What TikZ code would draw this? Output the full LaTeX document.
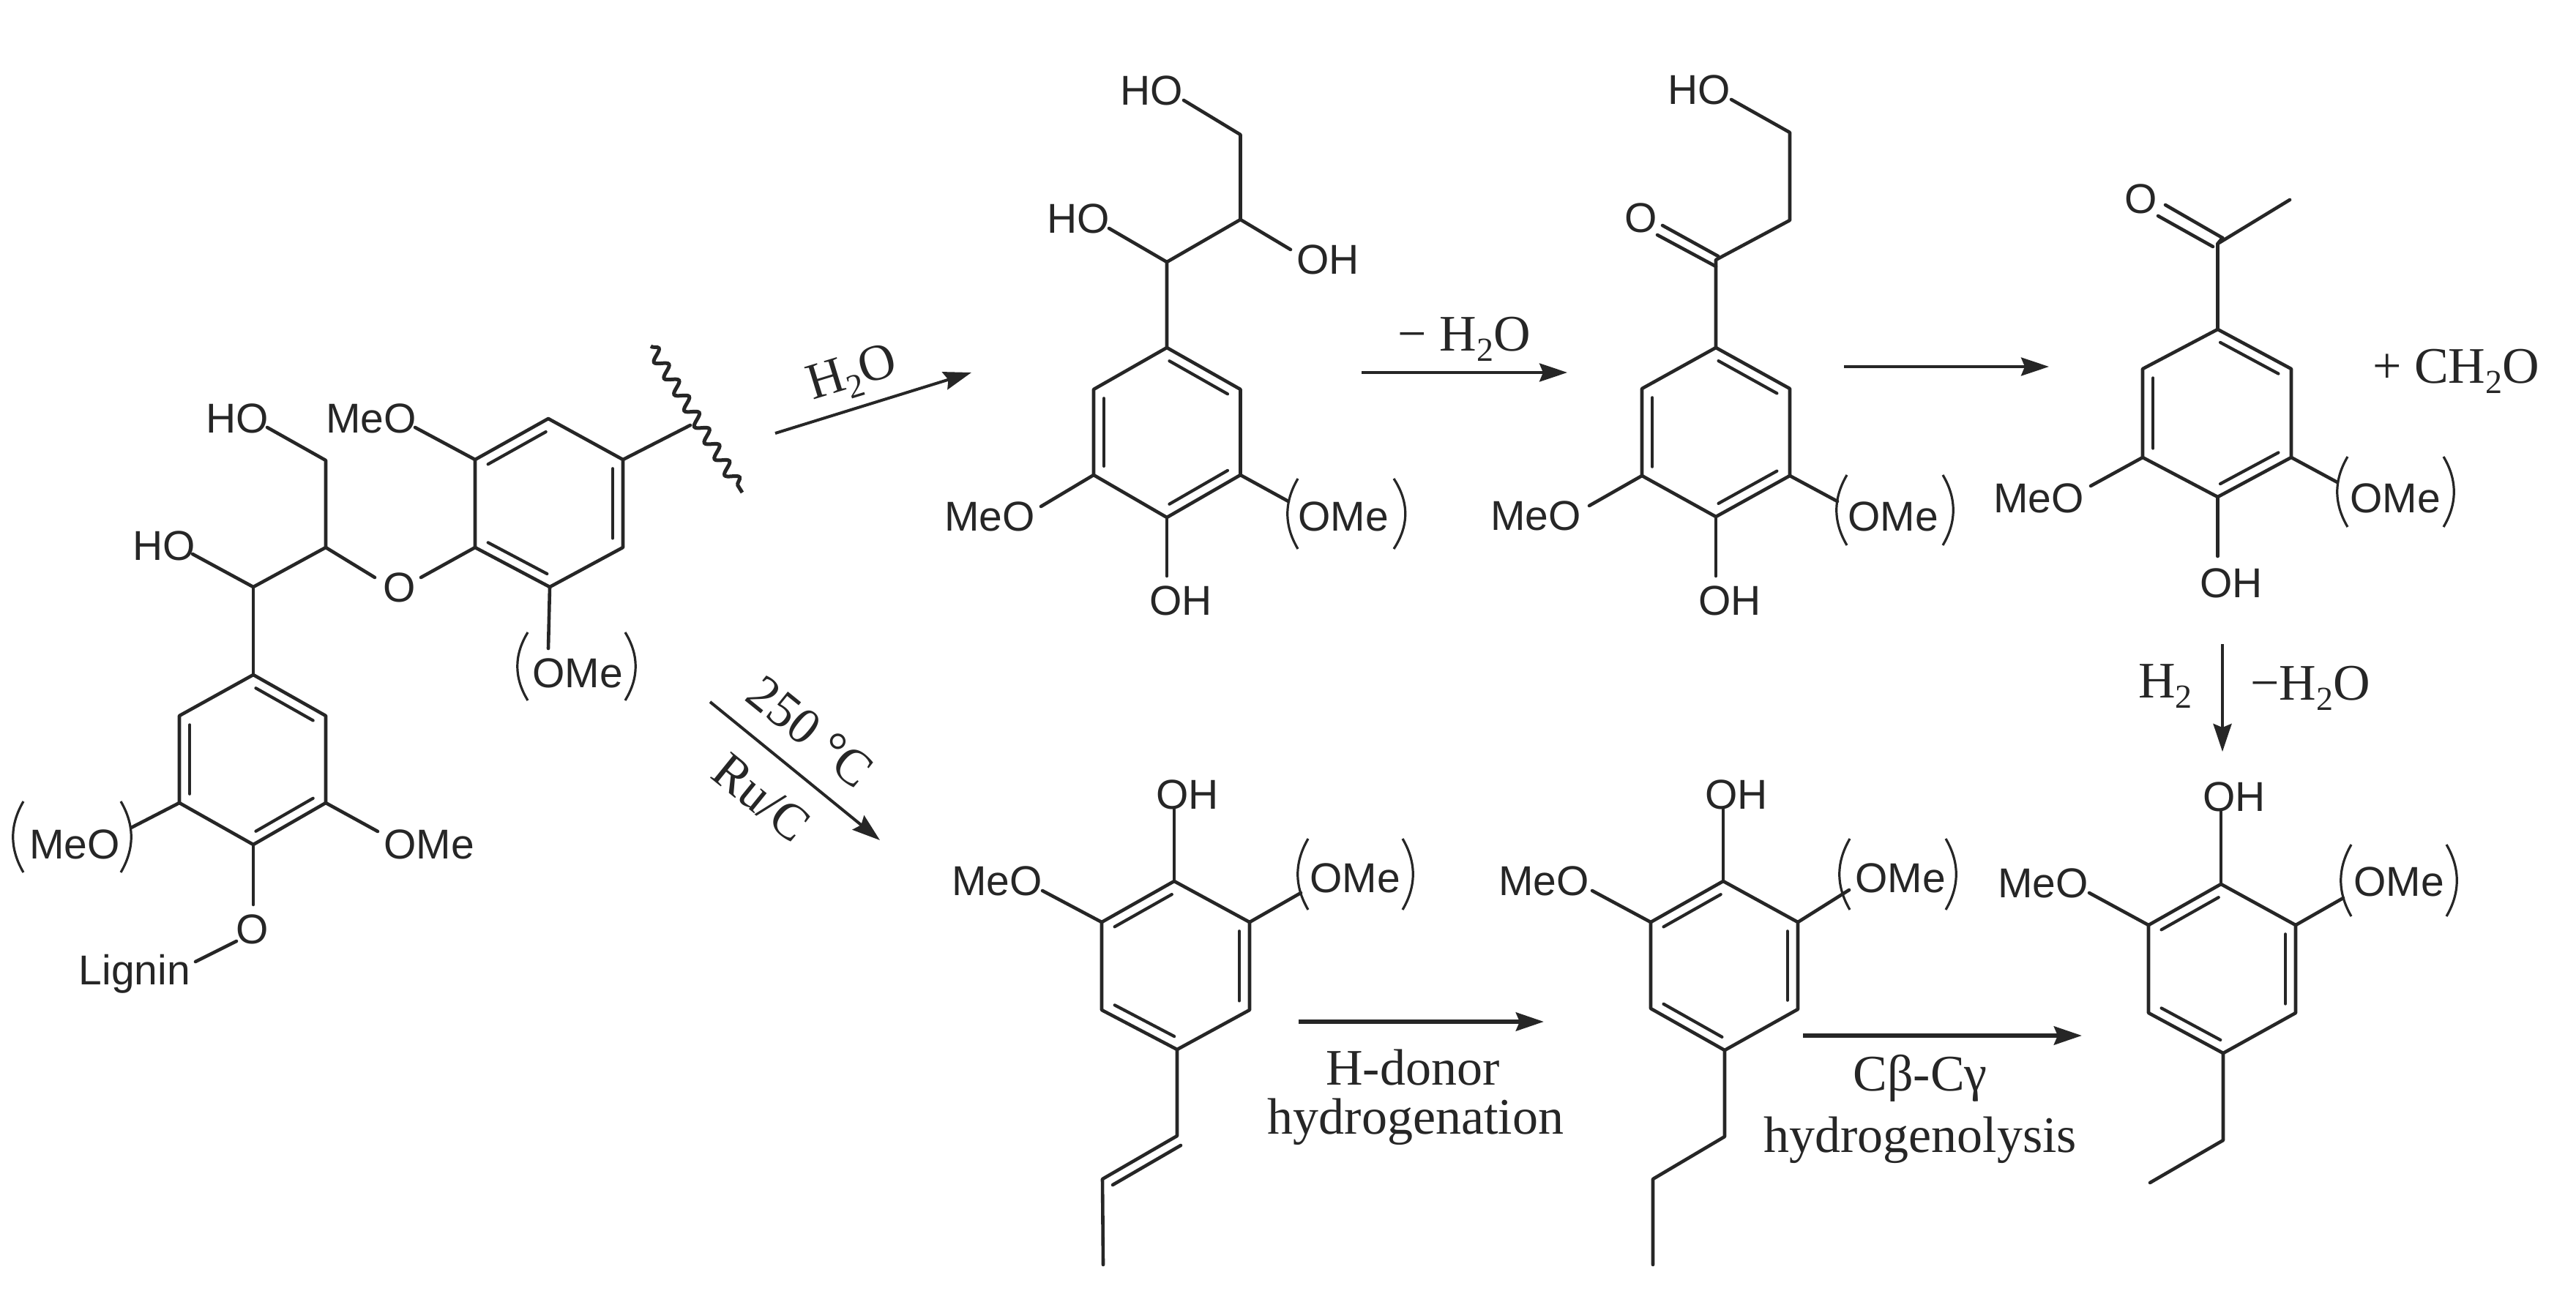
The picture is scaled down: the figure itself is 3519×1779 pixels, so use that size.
\documentclass[tikz,border=0pt]{standalone}
\usepackage{fontspec}
\setmainfont{Liberation Serif}
\setsansfont{Liberation Sans}
\usetikzlibrary{calc,arrows.meta,decorations.pathmorphing}
\definecolor{ink}{HTML}{262626}
\newcommand{\subdig}[1]{\raisebox{-0.2em}{\fontsize{46}{46}\selectfont #1}}
\newcommand{\benzring}[7]{%
  \coordinate (#1t) at (#2);\coordinate (#1rt) at (#3);\coordinate (#1rb) at (#4);
  \coordinate (#1b) at (#5);\coordinate (#1lb) at (#6);\coordinate (#1lt) at (#7);
  \coordinate (#1c) at ($(#1t)!.5!(#1b)$);
  \draw[bond] (#1t)--(#1rt)--(#1rb)--(#1b)--(#1lb)--(#1lt)--cycle;}
\newcommand{\dblin}[3]{\draw[bondin] ($(#1c)!.86!(#1#2)$) -- ($(#1c)!.86!(#1#3)$);}
\newcommand{\dblA}[1]{\dblin{#1}{t}{rt}\dblin{#1}{rb}{b}\dblin{#1}{lb}{lt}}
\newcommand{\dblB}[1]{\dblin{#1}{t}{lt}\dblin{#1}{rt}{rb}\dblin{#1}{b}{lb}}
\newcommand{\brackets}[6]{%
  \draw[brk] (#1,#5) .. controls (#2,{(2*#5+#6)/3}) and (#2,{(#5+2*#6)/3}) .. (#1,#6);
  \draw[brk] (#3,#5) .. controls (#4,{(2*#5+#6)/3}) and (#4,{(#5+2*#6)/3}) .. (#3,#6);}
\begin{document}
\begin{tikzpicture}[x=1pt,y=-1pt,
  bond/.style={draw=ink,line width=4.6pt,line join=round,line cap=round},
  bondin/.style={draw=ink,line width=4.2pt,line cap=round,shorten <=4pt,shorten >=4pt},
  brk/.style={draw=ink,line width=3.2pt},
  lab/.style={inner sep=0pt,text=ink,font=\fontsize{57}{57}\selectfont\sffamily},
  txt/.style={inner sep=0pt,text=ink,font=\fontsize{70}{70}\selectfont\rmfamily},
  rx/.style={draw=ink,line width=4pt,-{Stealth[length=38pt,width=25pt,inset=5pt]}},
  rxb/.style={rx,line width=6pt},
  wav/.style={draw=ink,line width=5pt,decorate,decoration={snake,segment length=26pt,amplitude=8pt}}]
\fill[white] (0,0) rectangle (3519,1779);
\useasboundingbox (0,0) rectangle (3519,1779);

% ---------- lignin dimer ----------
\benzring{a}{749,572}{851,628}{851,748}{751,802}{649,748}{649,628}\dblB{a}
\benzring{b}{346,922}{445,978}{445,1097}{346,1154}{245,1097}{245,978}\dblA{b}
\coordinate (ca) at (445,629);\coordinate (cb) at (445,748);\coordinate (cc) at (346,802);
\node[lab] (ho1) at (324,572) {HO};
\node[lab] (meo1) at (507,572) {MeO};
\node[lab] (ho2) at (224,746) {HO};
\node[lab] (oeth) at (546,803) {O};
\node[lab] (ome1) at (789,920) {OMe};
\node[lab] (ome2) at (586,1154) {OMe};
\node[lab] (meo2) at (102,1154) {MeO};
\node[lab] (oli) at (345,1270) {O};
\node[lab] (lig) at (184,1331) {Lignin};
\coordinate (e1) at (365,584);\coordinate (e2) at (263,757);\coordinate (e3) at (512,789);
\coordinate (e4) at (575,789);\coordinate (e5) at (567,584);\coordinate (e6) at (749,886);
\coordinate (e7) at (516,1136);\coordinate (e8) at (179,1131);\coordinate (e9) at (346,1236);
\coordinate (e10) at (267,1314);\coordinate (e11) at (323,1286);
\draw[bond] (e1)--(ca)--(cb)--(cc)--(e2);
\draw[bond] (cc)--(bt);
\draw[bond] (cb)--(e3);
\draw[bond] (e4)--(alb);
\draw[bond] (e5)--(alt);
\draw[bond] (ab)--(e6);
\draw[bond] (brb)--(e7);
\draw[bond] (blb)--(e8);
\draw[bond] (bb)--(e9);
\draw[bond] (e10)--(e11);
\coordinate (wc) at (943,581);\coordinate (w1) at (889,473);\coordinate (w2) at (1014,673);
\draw[bond] (art)--(wc);
\draw[wav] (w1)--(w2);
\brackets{721}{702}{854}{873}{864}{957}
\brackets{32}{13}{165}{184}{1095}{1192}

% ---------- top row, molecule 1 ----------
\benzring{c}{1594,475}{1694.5,532}{1694.5,649}{1594,707}{1494,649}{1494,532}\dblA{c}
\coordinate (c1) at (1594,358);\coordinate (c2) at (1694.5,300);\coordinate (c3) at (1694.5,184);
\coordinate (c4) at (1617,137);\coordinate (c5) at (1515,312);\coordinate (c6) at (1763,341);
\coordinate (c7) at (1422,692);\coordinate (c8) at (1760,685);\coordinate (c9) at (1594,787);
\node[lab] (cho1) at (1573,124) {HO};
\node[lab] (cho2) at (1473,299) {HO};
\node[lab] (coh1) at (1814,355) {OH};
\node[lab] (cmeo) at (1352,706) {MeO};
\node[lab] (come) at (1835,706) {OMe};
\node[lab] (coh2) at (1613,821) {OH};
\draw[bond] (ct)--(c1)--(c2)--(c3)--(c4);
\draw[bond] (c1)--(c5);
\draw[bond] (c2)--(c6);
\draw[bond] (clb)--(c7);
\draw[bond] (crb)--(c8);
\draw[bond] (cb)--(c9);
\brackets{1773}{1754}{1904}{1925}{654}{750}

% ---------- top row, molecule 2 ----------
\benzring{d}{2344,475}{2445,531}{2445,650}{2344,706}{2243,650}{2243,531}\dblA{d}
\coordinate (d1) at (2344,355);\coordinate (d2) at (2445,301);\coordinate (d3) at (2445,181);
\coordinate (d4) at (2365,136);\coordinate (d5) at (2171,691);\coordinate (d6) at (2510,685);
\coordinate (d7) at (2344,787);
\coordinate (d8) at (2264,321);\coordinate (d9) at (2344,364);\coordinate (d10) at (2271,308);\coordinate (d11) at (2347,350);
\node[lab] (dho) at (2321,123) {HO};
\node[lab] (doo) at (2242,298) {O};
\node[lab] (dmeo) at (2098,705) {MeO};
\node[lab] (dome) at (2586,706) {OMe};
\node[lab] (doh) at (2363,821) {OH};
\draw[bond] (dt)--(d1)--(d2)--(d3)--(d4);
\draw[bond] (d8)--(d9);
\draw[bond] (d10)--(d11);
\draw[bond] (dlb)--(d5);
\draw[bond] (drb)--(d6);
\draw[bond] (db)--(d7);
\brackets{2523}{2504}{2654}{2673}{649}{745}

% ---------- top row, molecule 3 ----------
\benzring{f}{3029.5,450}{3130,504}{3130,625}{3029.5,679}{2927,625}{2927,504}\dblA{f}
\coordinate (f1) at (3029.5,333);\coordinate (f2) at (3128,273);\coordinate (f3) at (2856,664);
\coordinate (f4) at (3193,659);\coordinate (f5) at (3029.5,760);
\coordinate (f6) at (2948,295);\coordinate (f7) at (3023,337);\coordinate (f8) at (2958,280);\coordinate (f9) at (3036,325);
\node[lab] (foo) at (2925,272) {O};
\node[lab] (fmeo) at (2785,681) {MeO};
\node[lab] (fome) at (3272,681) {OMe};
\node[lab] (foh) at (3048,797) {OH};
\draw[bond] (ft)--(f1);
\draw[bond] (f9)--(f1)--(f2);
\draw[bond] (f6)--(f7);
\draw[bond] (f8)--(f9);
\draw[bond] (flb)--(f3);
\draw[bond] (frb)--(f4);
\draw[bond] (fb)--(f5);
\brackets{3207}{3188}{3338}{3357}{624}{720}
\node[txt] (plus) at (3355,507) {+ CH\subdig{2}O};

% ---------- bottom row, molecule 4 ----------
\benzring{g}{1604,1204}{1707,1260}{1707,1380}{1608,1434}{1505,1380}{1505,1260}\dblB{g}
\coordinate (g1) at (1604,1106);\coordinate (g2) at (1424,1217);\coordinate (g3) at (1777,1220);
\coordinate (g4) at (1608,1552);\coordinate (g5) at (1506,1611);\coordinate (g6) at (1507,1728);
\coordinate (g7) at (1613,1565);\coordinate (g8) at (1520,1619);
\node[lab] (goh) at (1622,1086) {OH};
\node[lab] (gmeo) at (1362,1204) {MeO};
\node[lab] (gome) at (1851,1200) {OMe};
\draw[bond] (gt)--(g1);
\draw[bond] (glt)--(g2);
\draw[bond] (grt)--(g3);
\draw[bond] (gb)--(g4)--(g5)--(g6);
\draw[bond] (g7)--(g8);
\brackets{1787}{1768}{1916}{1935}{1146}{1243}

% ---------- bottom row, molecule 5 ----------
\benzring{h}{2354,1204}{2456,1260}{2456,1379}{2356,1435}{2255,1378}{2255,1260}\dblB{h}
\coordinate (h1) at (2354,1106);\coordinate (h2) at (2175,1217);\coordinate (h3) at (2526,1216);
\coordinate (h4) at (2356,1553);\coordinate (h5) at (2258,1611);\coordinate (h6) at (2258,1728);
\node[lab] (hoh) at (2372,1086) {OH};
\node[lab] (hmeo) at (2109,1204) {MeO};
\node[lab] (home) at (2596,1200) {OMe};
\draw[bond] (ht)--(h1);
\draw[bond] (hlt)--(h2);
\draw[bond] (hrt)--(h3);
\draw[bond] (hb)--(h4)--(h5)--(h6);
\brackets{2527}{2508}{2658}{2677}{1146}{1243}

% ---------- bottom row, molecule 6 ----------
\benzring{k}{3034,1208}{3136,1264}{3136,1384}{3037,1439}{2935,1384}{2935,1264}\dblB{k}
\coordinate (k1) at (3034,1109);\coordinate (k2) at (2854,1220);\coordinate (k3) at (3201,1227);
\coordinate (k4) at (3037,1558);\coordinate (k5) at (2937,1616);
\node[lab] (koh) at (3052,1089) {OH};
\node[lab] (kmeo) at (2791,1207) {MeO};
\node[lab] (kome) at (3277,1205) {OMe};
\draw[bond] (kt)--(k1);
\draw[bond] (klt)--(k2);
\draw[bond] (krt)--(k3);
\draw[bond] (kb)--(k4)--(k5);
\brackets{3212}{3193}{3342}{3361}{1154}{1252}

% ---------- reaction arrows ----------
\coordinate (r1s) at (1059,592);\coordinate (r1e) at (1327,509);
\coordinate (r2s) at (1860,509);\coordinate (r2e) at (2141,509);
\coordinate (r3s) at (2519,501);\coordinate (r3e) at (2799,501);
\coordinate (r4s) at (3036,880);\coordinate (r4e) at (3036,1027);
\coordinate (r5s) at (970,959);\coordinate (r5e) at (1202,1148);
\coordinate (r6s) at (1774,1396);\coordinate (r6e) at (2109,1396);
\coordinate (r7s) at (2463,1415);\coordinate (r7e) at (2844,1415);
\draw[rx] (r1s)--(r1e);
\draw[rx] (r2s)--(r2e);
\draw[rx] (r3s)--(r3e);
\draw[rx] (r4s)--(r4e);
\draw[rx] (r5s)--(r5e);
\draw[rxb] (r6s)--(r6e);
\draw[rxb] (r7s)--(r7e);
\node[txt,rotate=17] (t1) at (1165,513) {H\subdig{2}O};
\node[txt] (t2) at (2000,463) {− H\subdig{2}O};
\node[txt] (t3) at (2958,938) {H\subdig{2}};
\node[txt] (t4) at (3156,940) {−H\subdig{2}O};
\node[txt,rotate=-39] (t5) at (1107,1000) {250 °C};
\node[txt,rotate=-39] (t6) at (1040,1090) {Ru/C};
\node[txt] (t7) at (1930,1459) {H-donor};
\node[txt] (t8) at (1934,1533) {hydrogenation};
\node[txt] (t9) at (2623,1473) {Cβ-Cγ};
\node[txt] (t10) at (2623,1558) {hydrogenolysis};
\end{tikzpicture}
\end{document}
